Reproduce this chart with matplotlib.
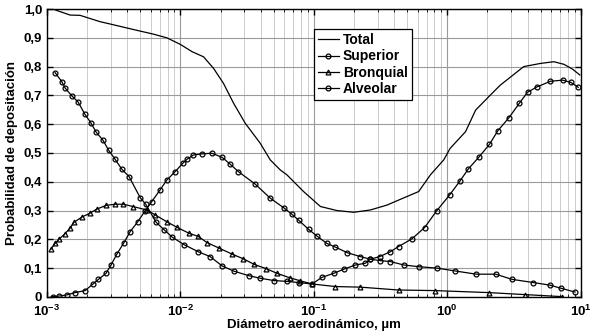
import matplotlib.pyplot as plt
import numpy as np
from matplotlib.ticker import FixedLocator, LogLocator, NullFormatter

plt.rcParams["font.family"] = ["Liberation Sans", "DejaVu Sans"]
plt.rcParams["font.weight"] = "bold"
plt.rcParams["mathtext.fontset"] = "custom"
plt.rcParams["mathtext.rm"] = "Liberation Sans:bold"
plt.rcParams["mathtext.bf"] = "Liberation Sans:bold"

# diameters in micrometres, probabilities
total_d = [1.15e-3, 1.49e-3, 1.77e-3, 2.50e-3, 2.97e-3, 4.42e-3, 6.24e-3, 7.91e-3,
           1.0e-2, 1.22e-2, 1.49e-2, 1.77e-2, 2.10e-2, 2.50e-2, 3.06e-2, 3.96e-2,
           4.71e-2, 5.60e-2, 6.28e-2, 8.37e-2, 0.112, 0.149, 0.199, 0.265, 0.353,
           0.445, 0.610, 0.747, 0.940, 1.05, 1.37, 1.63, 2.10, 2.50, 3.74, 4.99,
           6.28, 7.47, 8.63, 9.84]
total_p = [0.997, 0.979, 0.978, 0.956, 0.948, 0.929, 0.913, 0.900,
           0.877, 0.852, 0.834, 0.794, 0.742, 0.673, 0.603, 0.534,
           0.476, 0.441, 0.424, 0.366, 0.314, 0.300, 0.294, 0.302, 0.319,
           0.339, 0.366, 0.424, 0.476, 0.516, 0.574, 0.649, 0.701, 0.736, 0.800, 0.811,
           0.817, 0.808, 0.792, 0.771]

superior_d = [1.15e-3, 1.29e-3, 1.37e-3, 1.53e-3, 1.71e-3, 1.92e-3, 2.13e-3, 2.33e-3,
              2.63e-3, 2.90e-3, 3.24e-3, 3.63e-3, 4.12e-3, 4.99e-3, 5.49e-3, 6.58e-3,
              7.55e-3, 8.71e-3, 1.07e-2, 1.36e-2, 1.67e-2, 2.05e-2, 2.50e-2, 3.24e-2,
              3.96e-2, 4.99e-2, 6.28e-2, 7.67e-2, 9.68e-2, 0.115, 0.141, 0.167, 0.205,
              0.243, 0.265, 0.311, 0.374, 0.431, 0.544, 0.676, 0.832, 1.04, 1.25, 1.44,
              1.72, 2.07, 2.39, 2.89, 3.47, 3.99, 4.72, 5.93, 7.30, 8.43, 9.58]
superior_p = [0.779, 0.748, 0.725, 0.699, 0.677, 0.635, 0.605, 0.573,
              0.544, 0.509, 0.478, 0.444, 0.418, 0.345, 0.322, 0.259,
              0.233, 0.207, 0.181, 0.157, 0.140, 0.108, 0.090, 0.074,
              0.065, 0.057, 0.054, 0.050, 0.045, 0.068, 0.082, 0.096, 0.111,
              0.117, 0.131, 0.140, 0.157, 0.175, 0.202, 0.241, 0.299, 0.354, 0.404, 0.445,
              0.485, 0.530, 0.577, 0.622, 0.673, 0.711, 0.730, 0.749, 0.753, 0.745, 0.728]

bronquial_d = [1.07e-3, 1.15e-3, 1.24e-3, 1.36e-3, 1.49e-3, 1.59e-3, 1.82e-3, 2.10e-3,
               2.36e-3, 2.77e-3, 3.24e-3, 3.74e-3, 4.40e-3, 5.60e-3, 6.46e-3, 7.91e-3,
               9.40e-3, 1.15e-2, 1.36e-2, 1.58e-2, 1.96e-2, 2.43e-2, 2.94e-2, 3.57e-2,
               4.40e-2, 5.29e-2, 6.65e-2, 7.91e-2, 9.68e-2, 0.145, 0.223, 0.431, 0.805,
               2.05, 3.85, 7.26]
bronquial_p = [0.166, 0.186, 0.202, 0.219, 0.239, 0.259, 0.277, 0.291,
               0.305, 0.318, 0.322, 0.322, 0.314, 0.302, 0.285, 0.261,
               0.242, 0.222, 0.210, 0.189, 0.169, 0.149, 0.133, 0.113,
               0.098, 0.082, 0.066, 0.056, 0.045, 0.036, 0.034, 0.024, 0.022,
               0.015, 0.008, 0.001]

alveolar_d = [1.10e-3, 1.23e-3, 1.41e-3, 1.62e-3, 1.93e-3, 2.20e-3, 2.43e-3, 2.77e-3,
              3.01e-3, 3.33e-3, 3.78e-3, 4.20e-3, 4.79e-3, 5.43e-3, 6.10e-3, 7.04e-3,
              7.91e-3, 9.12e-3, 1.05e-2, 1.12e-2, 1.25e-2, 1.45e-2, 1.72e-2, 2.05e-2,
              2.36e-2, 2.72e-2, 3.63e-2, 4.71e-2, 5.93e-2, 6.85e-2, 7.67e-2, 9.12e-2,
              0.105, 0.125, 0.145, 0.177, 0.223, 0.265, 0.315, 0.374, 0.471, 0.610,
              0.838, 1.15, 1.65, 2.30, 3.06, 4.40, 5.86, 7.13, 9.04]
alveolar_p = [0.001, 0.003, 0.007, 0.015, 0.022, 0.044, 0.061, 0.082,
              0.110, 0.148, 0.189, 0.227, 0.261, 0.299, 0.331, 0.372,
              0.406, 0.435, 0.466, 0.478, 0.493, 0.497, 0.499, 0.485,
              0.461, 0.435, 0.392, 0.343, 0.310, 0.287, 0.267, 0.235,
              0.212, 0.186, 0.173, 0.154, 0.140, 0.131, 0.126, 0.123, 0.111, 0.105,
              0.100, 0.090, 0.079, 0.079, 0.061, 0.050, 0.041, 0.030, 0.017]

x_ticks = [1e-3, 1e-2, 1e-1, 1e0, 1e1]
x_tick_labels = [r"$10^{-3}$", r"$10^{-2}$", r"$10^{-1}$", r"$10^{0}$", r"$10^{1}$"]
y_ticks = [0.0, 0.1, 0.2, 0.3, 0.4, 0.5, 0.6, 0.7, 0.8, 0.9, 1.0]
y_tick_labels = ["0", "0,1", "0,2", "0,3", "0,4", "0,5", "0,6", "0,7", "0,8", "0,9", "1,0"]

fig = plt.figure(figsize=(5.92, 3.34), dpi=100)
ax = fig.add_axes([0.0794, 0.111, 0.9016, 0.862])

mk = dict(markersize=3.5, markerfacecolor="none", markeredgewidth=0.9)
ax.plot(total_d, total_p, color="k", lw=0.9, label="Total")
ax.plot(superior_d, superior_p, color="k", lw=0.9, marker="o", label="Superior", **mk)
ax.plot(bronquial_d, bronquial_p, color="k", lw=0.9, marker="^", label="Bronquial", **mk)
ax.plot(alveolar_d, alveolar_p, color="k", lw=0.9, marker="o", label="Alveolar", **mk)

ax.set_xscale("log")
ax.set_xlim(1e-3, 1e1)
ax.set_ylim(0, 1)
ax.set_xticks(x_ticks)
ax.set_xticklabels(x_tick_labels)
ax.xaxis.set_minor_locator(LogLocator(base=10, subs=np.arange(2, 10)))
ax.xaxis.set_minor_formatter(NullFormatter())
ax.yaxis.set_major_locator(FixedLocator(y_ticks))
ax.set_yticklabels(y_tick_labels)

ax.grid(which="major", color="#9a9a9a", lw=0.8)
ax.grid(which="minor", axis="x", color="#c4c4c4", lw=0.6)
ax.tick_params(which="both", direction="in", top=True, right=True, labelsize=9.5)
ax.tick_params(which="major", length=4, width=1)
ax.tick_params(which="minor", length=2.5)
ax.tick_params(axis="x", which="major", pad=5)
for s in ax.spines.values():
    s.set_linewidth(1.0)

ax.set_xlabel("Diámetro aerodinámico, µm", fontsize=9.5, fontweight="bold", labelpad=0)
ax.set_ylabel("Probabilidad de depositación", fontsize=9.5, fontweight="bold", labelpad=4)

leg = ax.legend(loc="upper left", bbox_to_anchor=(0.5, 0.93), fontsize=10,
                frameon=True, fancybox=False, edgecolor="k", framealpha=1,
                borderpad=0.3, labelspacing=0.15, handlelength=1.5, handletextpad=0.3,
                borderaxespad=0)
leg.get_frame().set_linewidth(0.9)
for t in leg.get_texts():
    t.set_fontweight("bold")

fig.savefig("out.png", dpi=100)
